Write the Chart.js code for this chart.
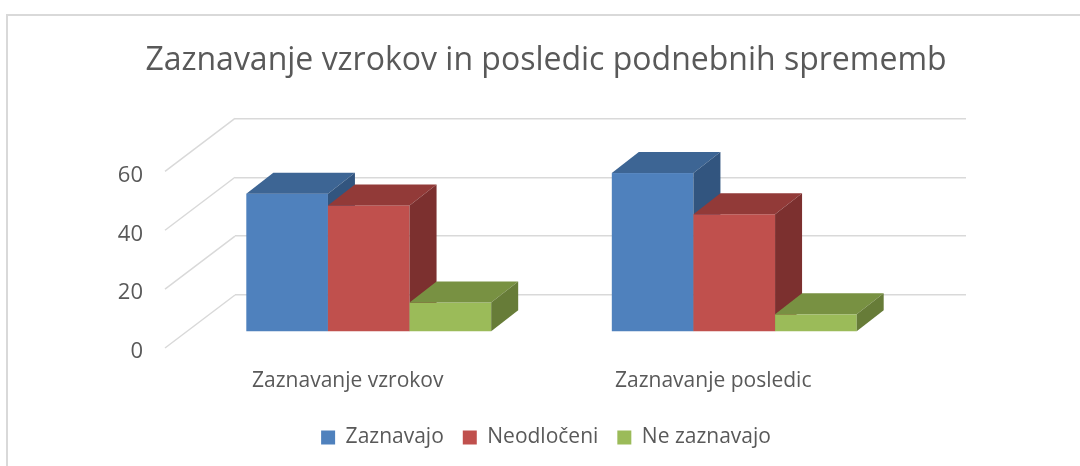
<!DOCTYPE html>
<html>
<head>
<meta charset="utf-8">
<script src="https://cdn.jsdelivr.net/npm/chart.js@4/dist/chart.umd.min.js"></script>
<style>
  body { margin: 0; background: #fff; }
  #wrap { position: relative; width: 1080px; height: 466px; overflow: hidden; }
  #frame { position: absolute; left: 6px; top: 14px; width: 1200px; height: 600px;
           border-top: 2px solid #d9d9d9; border-left: 2px solid #d9d9d9; pointer-events: none; }
</style>
</head>
<body>
<div id="wrap">
  <canvas id="myChart" width="1080" height="466"></canvas>
  <div id="frame"></div>
</div>
<script>
// Data
const categories = ['Zaznavanje vzrokov', 'Zaznavanje posledic'];
const seriesNames = ['Zaznavajo', 'Neodločeni', 'Ne zaznavajo'];
const zaznavajo = [47, 54];
const neodloceni = [43, 40];
const neZaznavajo = [10, 6];
const yTicks = [0, 20, 40, 60];

// face colours: front, top, side
const shades = [
  ['#4f81bd', '#3d6594', '#32557f'],
  ['#c0504d', '#923a38', '#7c302f'],
  ['#9bbb59', '#789142', '#677c38']
];

const gridColor = '#d9d9d9';
const FRONT = { x: -49, y: 37 };   // bar front plane, relative to back wall
const DEPTH = { x: 27, y: -21 };   // bar depth
const SIDE = { x: -70, y: 53 };    // floor / side wall depth

Chart.defaults.font.family = '"Open Sans", "Noto Sans", sans-serif';
Chart.defaults.color = '#595959';

// draws the side-wall lines and the bars as 3D boxes
const boxes3d = {
  id: 'boxes3d',
  beforeDatasetsDraw(chart) {
    const ctx = chart.ctx;
    const area = chart.chartArea;
    const yScale = chart.scales.y;

    ctx.save();
    ctx.strokeStyle = gridColor;
    ctx.lineWidth = 1.5;
    yTicks.forEach(v => {
      const py = yScale.getPixelForValue(v);
      ctx.beginPath();
      ctx.moveTo(area.left, py);
      ctx.lineTo(area.left + SIDE.x, py + SIDE.y);
      ctx.stroke();
    });

    categories.forEach((c, i) => {
      chart.data.datasets.forEach((ds, d) => {
        const bar = chart.getDatasetMeta(d).data[i];
        const p = bar.getProps(['x', 'y', 'base', 'width'], true);
        const L = p.x - p.width / 2 + FRONT.x;
        const R = p.x + p.width / 2 + FRONT.x;
        const T = p.y + FRONT.y;
        const B = p.base + FRONT.y;
        const col = shades[d];

        // front
        ctx.fillStyle = col[0];
        ctx.fillRect(L, T, R - L, B - T);
        // top
        ctx.fillStyle = col[1];
        ctx.beginPath();
        ctx.moveTo(L, T);
        ctx.lineTo(L + DEPTH.x, T + DEPTH.y);
        ctx.lineTo(R + DEPTH.x, T + DEPTH.y);
        ctx.lineTo(R, T);
        ctx.closePath();
        ctx.fill();
        // side
        ctx.fillStyle = col[2];
        ctx.beginPath();
        ctx.moveTo(R, T);
        ctx.lineTo(R + DEPTH.x, T + DEPTH.y);
        ctx.lineTo(R + DEPTH.x, B + DEPTH.y);
        ctx.lineTo(R, B);
        ctx.closePath();
        ctx.fill();
      });
    });
    ctx.restore();
    return false;
  }
};

const data = {
  labels: categories,
  datasets: [
    { label: seriesNames[0], data: zaznavajo, backgroundColor: shades[0][0] },
    { label: seriesNames[1], data: neodloceni, backgroundColor: shades[1][0] },
    { label: seriesNames[2], data: neZaznavajo, backgroundColor: shades[2][0] }
  ]
};

const ctx = document.getElementById('myChart').getContext('2d');
const myChart = new Chart(ctx, {
  type: 'bar',
  data: data,
  plugins: [boxes3d],
  options: {
    responsive: false,
    animation: false,
    layout: { padding: { left: 12, right: 0, top: 0, bottom: 8 } },
    datasets: { bar: { categoryPercentage: 0.67, barPercentage: 1 } },
    plugins: {
      title: {
        display: true,
        text: 'Zaznavanje vzrokov in posledic podnebnih sprememb',
        color: '#595959',
        font: { size: 32, weight: 'normal' },
        padding: { top: 42, bottom: 38 }
      },
      legend: {
        position: 'bottom',
        labels: {
          color: '#595959',
          font: { size: 21 },
          boxWidth: 14,
          boxHeight: 14,
          padding: 19
        }
      },
      tooltip: { enabled: false }
    },
    scales: {
      x: {
        grid: { display: false, drawTicks: false },
        border: { display: false },
        ticks: { color: '#595959', font: { size: 21 }, labelOffset: -70, padding: 73 },
        afterFit(scale) { scale.height = 113; }
      },
      y: {
        min: 0,
        max: 60,
        grid: { color: gridColor, lineWidth: 1.5, drawTicks: false },
        border: { display: false },
        ticks: { stepSize: 20, color: '#595959', font: { size: 22 }, labelOffset: 57, padding: 92 },
        afterFit(scale) { scale.width = 223; }
      },
      // empty right-hand axis, only keeps space to the right of the plot
      spacer: {
        type: 'linear',
        position: 'right',
        grid: { display: false, drawTicks: false },
        border: { display: false },
        ticks: { display: false },
        afterFit(scale) { scale.width = 114; }
      }
    }
  }
});
</script>
</body>
</html>
